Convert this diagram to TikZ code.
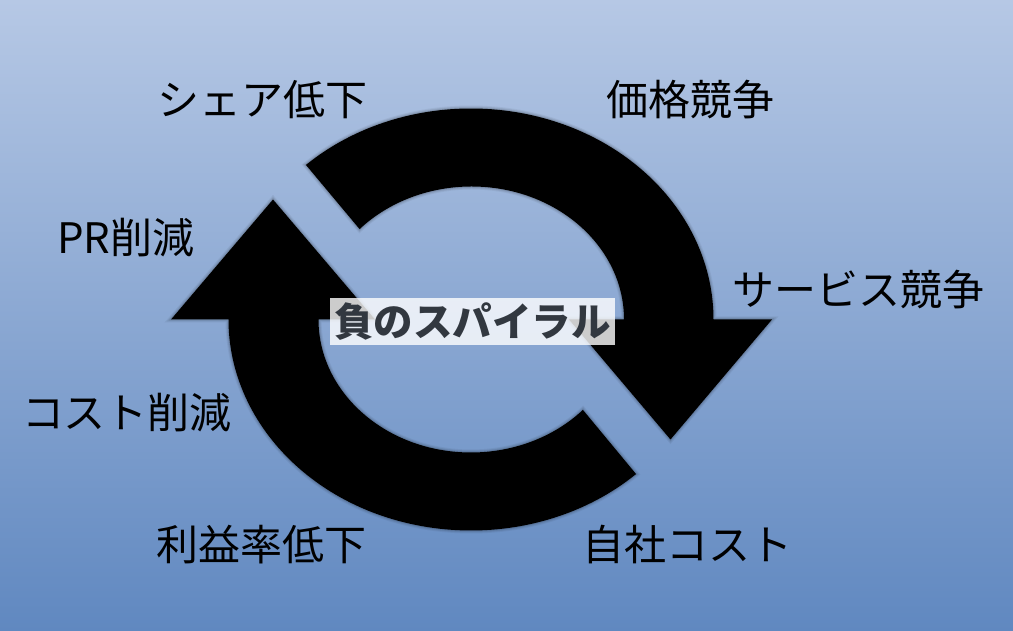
\documentclass[tikz,border=0pt]{standalone}
\usepackage{fontspec}
\newfontfamily\cjk{Noto Sans CJK JP}
\definecolor{bgtop}{RGB}{182,200,229}
\definecolor{bgbot}{RGB}{96,136,192}
\definecolor{labeltext}{RGB}{50,56,64}
\tikzset{
  lbl/.style={font=\cjk\fontsize{42}{50}\selectfont, text=black, inner sep=0pt},
  centrelbl/.style={font=\cjk\bfseries\fontsize{39.5}{46}\selectfont, text=labeltext,
     fill=white, fill opacity=0.8, text opacity=1, inner sep=0pt,
     minimum width=285pt, minimum height=47pt},
  arrowshape/.style={fill=black},
  halo/.style={draw=black, draw opacity=#1, fill=none, line join=miter}
}
\newcommand{\toparrow}{%
  (132.9:242.5 and 211) arc[start angle=132.9, end angle=0, x radius=242.5, y radius=211]
  -- ++(58.5,0) -- ++(-101.5,-120) -- ++(-101.5,120) -- ++(55,0)
  arc[start angle=0, end angle=137.2, x radius=152.5, y radius=133] -- cycle}
\newcommand{\botarrow}{%
  (-47.1:242.5 and 211) arc[start angle=-47.1, end angle=-180, x radius=242.5, y radius=211]
  -- ++(-57.5,0) -- ++(102,120) -- ++(102,-120) -- ++(-56.5,0)
  arc[start angle=180, end angle=317.2, x radius=152.5, y radius=133] -- cycle}
\begin{document}
\begin{tikzpicture}[x=1pt,y=1pt]
\useasboundingbox (0,0) rectangle (1013,631);
\shade[top color=bgtop, bottom color=bgbot] (0,0) rectangle (1013,631);
\begin{scope}[shift={(471,311.5)}]
  \foreach \w/\o in {6/0.05,4/0.07,2/0.1}{
    \draw[halo=\o, line width=\w pt] \toparrow;
    \draw[halo=\o, line width=\w pt] \botarrow;
  }
  \fill[arrowshape] \toparrow;
  \fill[arrowshape] \botarrow;
\end{scope}
\node[centrelbl] (spiral) at (472.5,309.5) {負のスパイラル};
\node[lbl] (share) at (262,531) {シェア低下};
\node[lbl] (price) at (690,531) {価格競争};
\node[lbl] (pr) at (126,393) {PR削減};
\node[lbl] (service) at (858,341) {サービス競争};
\node[lbl] (cost) at (127,218) {コスト削減};
\node[lbl] (profit) at (261,86) {利益率低下};
\node[lbl] (own) at (687,86) {自社コスト};
\end{tikzpicture}
\end{document}
